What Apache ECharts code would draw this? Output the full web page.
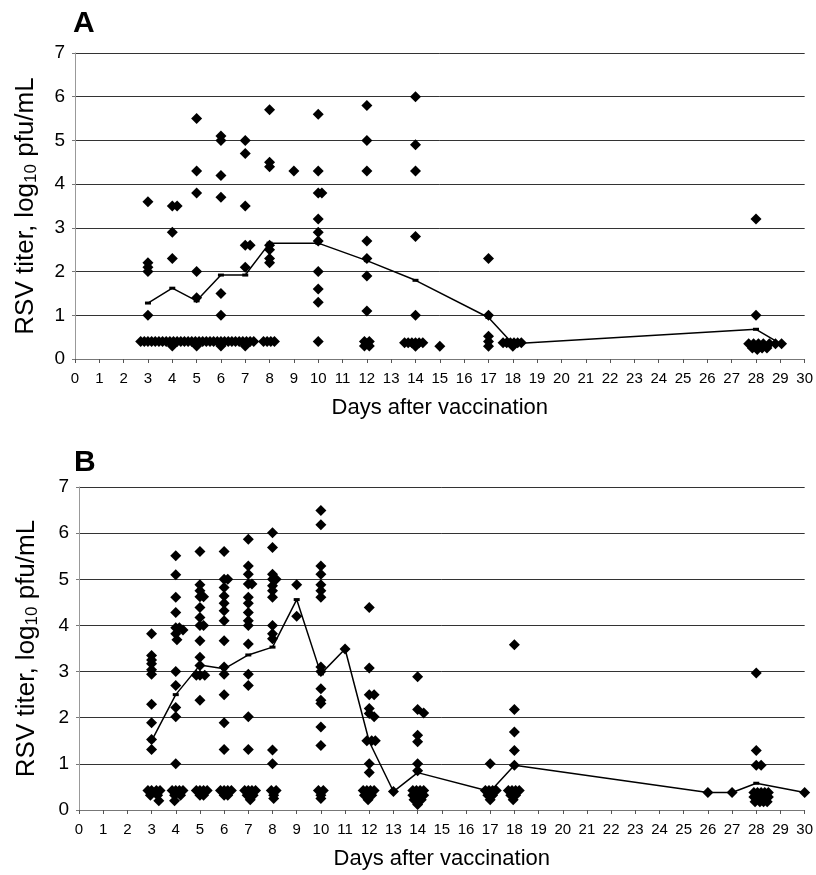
<!DOCTYPE html>
<html>
<head>
<meta charset="utf-8">
<script src="https://cdn.jsdelivr.net/npm/echarts@6/dist/echarts.min.js"></script>
<style>
  html, body { margin: 0; padding: 0; background: #fff; }
  #chart { width: 816px; height: 875px; }
</style>
</head>
<body>
<div id="chart"></div>
<script>
// panel A: individual titers [day, log10 pfu/mL] (days jittered around the sampling day)
const aPoints = [
  // 0.4 row, days 3-8
  [2.7,0.4],[2.85,0.4],[3.0,0.4],[3.15,0.4],[3.3,0.4],[3.45,0.4],[3.6,0.4],[3.75,0.4],[3.9,0.4],
  [4.05,0.4],[4.2,0.4],[4.35,0.4],[4.5,0.4],[4.65,0.4],[4.8,0.4],[4.95,0.4],[5.1,0.4],[5.25,0.4],
  [5.4,0.4],[5.55,0.4],[5.7,0.4],[5.85,0.4],[6.0,0.4],[6.15,0.4],[6.3,0.4],[6.45,0.4],[6.6,0.4],
  [6.75,0.4],[6.9,0.4],[7.05,0.4],[7.2,0.4],[7.35,0.4],[7.75,0.4],[7.9,0.4],[8.05,0.4],[8.2,0.4],
  [4.0,0.3],[5.0,0.3],[6.0,0.3],[7.0,0.3],
  // day 3
  [3,3.6],[3,2.2],[3,2.1],[3,2.0],[3,1.0],
  // day 4
  [4,3.5],[4.2,3.5],[4,2.9],[4,2.3],
  // day 5
  [5,5.5],[5,4.3],[5,3.8],[5,2.0],[5,1.4],
  // day 6
  [6,5.1],[6,5.0],[6,4.2],[6,3.7],[6,1.5],[6,1.0],
  // day 7
  [7,5.0],[7,4.7],[7,3.5],[7,2.6],[7.2,2.6],[7,2.1],
  // day 8
  [8,5.7],[8,4.5],[8,4.4],[8,2.6],[8,2.5],[8,2.3],[8,2.2],
  // day 9
  [9,4.3],
  // day 10
  [10,5.6],[10,4.3],[10,3.8],[10.15,3.8],[10,3.2],[10,2.9],[10,2.7],[10,2.0],[10,1.6],[10,1.3],[10,0.4],
  // day 12
  [12,5.8],[12,5.0],[12,4.3],[12,2.7],[12,2.3],[12,1.9],[12,1.1],
  [11.9,0.4],[12.1,0.4],[11.9,0.3],[12.1,0.3],[12,0.35],
  // day 14
  [14,6.0],[14,4.9],[14,4.3],[14,2.8],[14,1.0],
  [13.55,0.37],[13.7,0.37],[13.85,0.37],[14.0,0.37],[14.15,0.37],[14.3,0.37],[14.0,0.29],
  // day 15
  [15,0.29],
  // day 17
  [17,2.3],[17,1.0],[17,0.52],[17,0.4],[17,0.29],
  // day 18
  [17.6,0.37],[17.75,0.37],[17.9,0.37],[18.05,0.37],[18.2,0.37],[18.35,0.37],[18.0,0.29],
  // day 28
  [28,3.2],[28,1.0],
  [27.7,0.35],[27.9,0.35],[28.1,0.35],[28.3,0.35],[28.55,0.35],[28.8,0.35],[29.05,0.35],
  [27.85,0.25],[28.05,0.22],[28.25,0.25],[28.45,0.25]
];
const aMean = [
  [3,1.28],[4,1.62],[5,1.33],[6,1.92],[7,1.92],[8,2.65],[10,2.65],[12,2.25],
  [14,1.8],[17,0.95],[18,0.35],[28,0.68],[29,0.35]
];

// panel B
const bPoints = [
  // day 3
  [3,3.82],[3,3.35],[3,3.25],[3,3.17],[3,3.04],[3,2.94],[3,2.29],[3,1.89],[3,1.53],[3,1.31],
  [2.85,0.42],[3.0,0.42],[3.2,0.42],[3.35,0.42],[2.95,0.32],[3.25,0.32],[3.3,0.2],
  // day 4
  [4,5.51],[4,5.10],[4,4.61],[4,4.28],[4,3.95],[4.15,3.95],[4.3,3.9],[4,3.82],[4.05,3.69],
  [4,3.0],[4,2.70],[4,2.22],[4,2.02],[4,1.0],
  [3.85,0.42],[4.0,0.42],[4.15,0.42],[4.3,0.42],[3.95,0.32],[4.2,0.32],[3.95,0.2],
  // day 5
  [5,5.60],[5,4.88],[5,4.75],[5,4.62],[5.15,4.62],[5,4.39],[5,4.17],[5,4.0],[5.15,4.0],
  [5,3.67],[5,3.31],[5,3.13],[4.85,2.92],[5,2.92],[5.2,2.92],[5,2.38],
  [4.85,0.42],[5.0,0.42],[5.15,0.42],[5.3,0.42],[5.0,0.32],[5.15,0.32],
  // day 6
  [6,5.60],[6,5.0],[6.15,5.0],[6,4.82],[6,4.64],[6,4.48],[6,4.32],[6,4.10],[6,3.67],
  [6,3.10],[6,2.94],[6,2.5],[6,1.89],[6,1.31],
  [5.85,0.42],[6.0,0.42],[6.15,0.42],[6.3,0.42],[6.0,0.32],[6.15,0.32],
  // day 7
  [7,5.87],[7,5.29],[7,5.11],[7,4.9],[7.15,4.9],[7,4.61],[7,4.48],[7,4.28],[7,4.1],[7,4.0],
  [7,3.6],[7,2.94],[7,2.70],[7,2.02],[7,1.31],
  [6.85,0.42],[7.0,0.42],[7.15,0.42],[7.3,0.42],[6.95,0.32],[7.2,0.32],[7.08,0.22],
  // day 8
  [8,6.01],[8,5.69],[8,5.11],[8,5.0],[8.15,5.0],[8,4.86],[8,4.75],[8,4.61],[8,4.0],
  [8,3.82],[8,3.71],[8,1.30],[8,1.0],
  [7.95,0.42],[8.15,0.42],[8.05,0.32],[8.05,0.25],
  // day 9
  [9,4.88],[9,4.20],
  // day 10
  [10,6.49],[10,6.18],[10,5.29],[10,5.11],[10,4.88],[10,4.75],[10,4.61],[10,3.10],[10,3.0],
  [10,2.63],[10,2.38],[10,2.31],[10,1.80],[10,1.40],
  [9.9,0.42],[10.1,0.42],[10.0,0.32],[10.0,0.25],
  // day 11
  [11,3.49],
  // day 12
  [12,4.39],[12,3.08],[12,2.5],[12.2,2.5],[12,2.20],[12,2.09],[12.2,2.02],
  [11.9,1.5],[12.1,1.5],[12.25,1.5],[12,1.0],[12,0.81],
  [11.75,0.42],[11.9,0.42],[12.05,0.42],[12.2,0.42],[11.8,0.32],[11.95,0.32],[12.1,0.32],[11.95,0.22],
  // day 13
  [13,0.40],
  // day 14
  [14,2.89],[14,2.18],[14.25,2.10],[14,1.62],[14,1.48],[14,1.0],[14,0.85],
  [13.8,0.42],[13.95,0.42],[14.1,0.42],[14.25,0.42],[13.8,0.32],[13.95,0.32],[14.1,0.32],[14.25,0.32],
  [13.85,0.22],[14.0,0.22],[14.15,0.22],[14.0,0.12],
  // day 17
  [17,1.0],
  [16.8,0.42],[16.95,0.42],[17.1,0.42],[17.25,0.42],[16.9,0.32],[17.1,0.32],[17.0,0.22],
  // day 18
  [18,3.58],[18,2.18],[18,1.69],[18,1.29],[18,0.97],
  [17.75,0.42],[17.9,0.42],[18.05,0.42],[18.2,0.42],[17.85,0.32],[18.05,0.32],[17.95,0.22],
  // days 26-30
  [26,0.38],[27,0.38],
  [28,2.97],[28,1.29],[28,0.97],[28.2,0.97],
  [27.9,0.38],[28.05,0.38],[28.2,0.38],[28.35,0.38],[28.5,0.38],
  [27.9,0.28],[28.05,0.28],[28.2,0.28],[28.35,0.28],[28.5,0.28],
  [27.95,0.18],[28.15,0.18],[28.3,0.18],[28.45,0.18],
  [30,0.38]
];
const bMean = [
  [3,1.5],[4,2.5],[5,3.14],[6,3.06],[7,3.36],[8,3.53],[9,4.56],[10,2.95],[11,3.49],
  [12,1.48],[13,0.40],[14,0.81],[17,0.40],[18,0.97],[26,0.38],[27,0.38],[28,0.58],[30,0.38]
];

const yName = 'RSV titer, log{sub|10} pfu/mL';
const xName = 'Days after vaccination';

const chart = echarts.init(document.getElementById('chart'));

const mainFont = "'Liberation Sans', Arial, sans-serif";

const makeX = (gridIndex) => ({
  type: 'value',
  gridIndex,
  min: 0,
  max: 30,
  interval: 1,
  name: xName,
  nameLocation: 'middle',
  nameGap: 38,
  nameTextStyle: { fontSize: 22, color: '#000', fontFamily: mainFont },
  axisLine: { show: true, lineStyle: { color: '#777', width: 1 } },
  axisTick: { show: true, length: 4, lineStyle: { color: '#555' } },
  axisLabel: { fontSize: 15, color: '#000', margin: 12, fontFamily: mainFont },
  splitLine: { show: false }
});

const makeY = (gridIndex, gap) => ({
  type: 'value',
  gridIndex,
  min: 0,
  max: 7,
  interval: 1,
  name: yName,
  nameLocation: 'middle',
  nameRotate: 90,
  nameGap: gap,
  nameTextStyle: {
    fontSize: 26, color: '#000', fontFamily: mainFont,
    rich: { sub: { fontSize: 17, padding: [11, 0, 0, 0], fontFamily: mainFont } }
  },
  axisLine: { show: true, lineStyle: { color: '#999', width: 1 } },
  axisTick: { show: true, length: 3, lineStyle: { color: '#777' } },
  axisLabel: { fontSize: 19, color: '#000', margin: 10, fontFamily: mainFont },
  splitLine: { show: true, lineStyle: { color: '#333', width: 1 } }
});

const dots = (xAxisIndex, data) => ({
  type: 'scatter',
  xAxisIndex, yAxisIndex: xAxisIndex,
  data,
  symbol: 'diamond',
  symbolSize: 11,
  itemStyle: { color: '#000', opacity: 1 },
  z: 2
});

const meanLine = (xAxisIndex, data) => ({
  type: 'line',
  xAxisIndex, yAxisIndex: xAxisIndex,
  data,
  symbol: 'rect',
  symbolSize: [6, 3],
  showSymbol: true,
  lineStyle: { color: '#000', width: 1.5 },
  itemStyle: { color: '#000' },
  z: 3
});

chart.setOption({
  animation: false,
  backgroundColor: '#fff',
  title: [
    { text: 'A', left: 68, top: 4, textStyle: { fontSize: 30, fontWeight: 'bold', color: '#000', fontFamily: mainFont } },
    { text: 'B', left: 69, top: 443, textStyle: { fontSize: 30, fontWeight: 'bold', color: '#000', fontFamily: mainFont } }
  ],
  grid: [
    { left: 75, right: 11, top: 53, height: 306 },
    { left: 79, right: 4, top: 487, height: 323 }
  ],
  xAxis: [makeX(0), makeX(1)],
  yAxis: [makeY(0, 35), makeY(1, 38)],
  series: [
    dots(0, aPoints),
    meanLine(0, aMean),
    dots(1, bPoints),
    meanLine(1, bMean)
  ]
});
</script>
</body>
</html>
